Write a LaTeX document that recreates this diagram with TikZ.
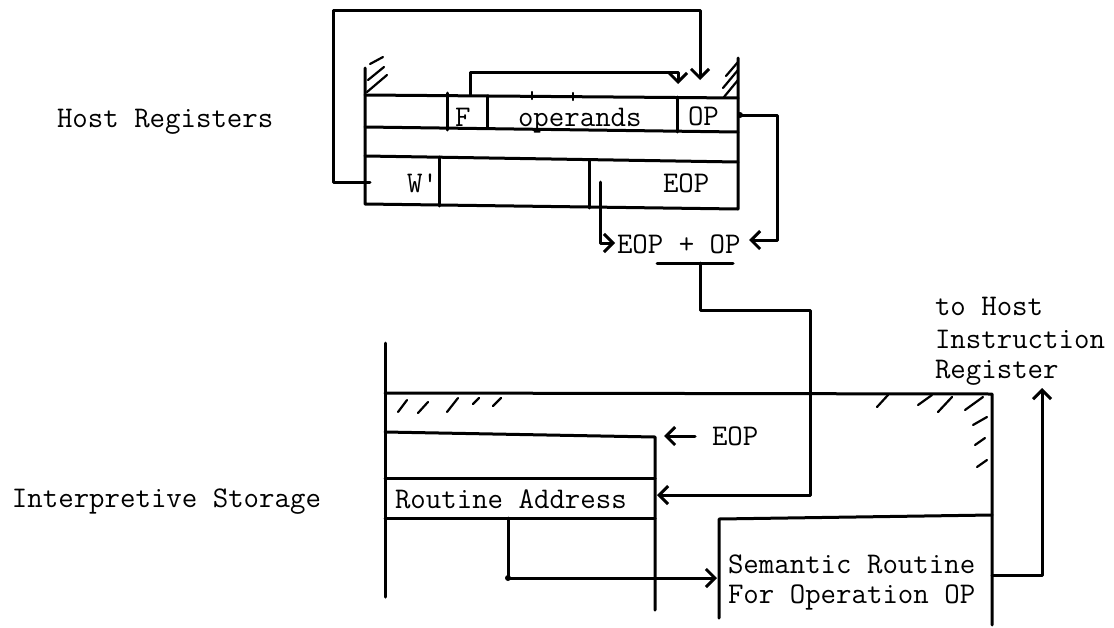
\documentclass[tikz,border=0pt]{standalone}
\usepackage{fontspec}
\usetikzlibrary{arrows.meta}
\begin{document}
\begin{tikzpicture}[x=1pt,y=-1pt, line width=3pt, line join=round, line cap=round,
  lbl/.style={font=\ttfamily\fontsize{30}{32}\selectfont, inner sep=0pt, outer sep=0pt, anchor=base west},
  arr/.style={-{Straight Barb[length=9pt,width=18pt]}},
  hatch/.style={line width=2.2pt}]
\useasboundingbox (0,0) rectangle (1114,627);

% ---------- labels ----------
\node[lbl] (hostlbl) at (57,127) {Host Registers};
\node[lbl] (intlbl) at (12,507) {Interpretive Storage};

% ---------- host registers ----------
\draw (365,68) -- (365,204) -- (738,209) -- (738,58);
\draw (365,95) -- (738,98);
\draw (365,127) -- (738,132);
\draw (365,156) -- (738,162);
\draw (447,93) -- (447,130);
\draw (487,96) -- (487,128);
\draw (677,97) -- (677,132);
\draw (439,157) -- (439,206);
\draw (589,160) -- (589,208);
\draw[hatch] (532,92) -- (532,99);
\draw[hatch] (573,93) -- (573,100);
% hatching
\draw[hatch] (367,92) -- (387,75);
\draw[hatch] (368,80) -- (384,67);
\draw[hatch] (370,64) -- (383,57);
\draw[hatch] (724,97) -- (738,80);
\draw[hatch] (723,88) -- (738,70);
\draw[hatch] (726,76) -- (738,62);

\node[lbl] (F) at (455,126) {F};
\node[lbl] (opnds) at (518,126) {operands};
\node[lbl] (OP) at (688,125) {OP};
\node[lbl] (W) at (407,192) {W'};
\node[lbl] (EOP) at (663,192) {EOP};

% connectors in host registers
\coordinate (wIn) at (370,182);
\coordinate (topTip) at (700,80);
\draw[arr] (wIn) -- (333,182) -- (333,10) -- (700,10) -- (topTip);
\coordinate (fTop) at (470,95);
\coordinate (opTip) at (678,84);
\draw[arr] (fTop) -- (470,72) -- (678,72) -- (opTip);

% ---------- EOP + OP ----------
\node[lbl] (sum) at (617,253) {EOP + OP};
\coordinate (opR) at (740,115);
\fill (opR) circle (3pt);
\coordinate (sumR) at (749,240);
\draw[arr] (opR) -- (777,115) -- (777,240) -- (sumR);
\coordinate (eopC) at (600,182);
\coordinate (sumL) at (615,243);
\draw[arr] (eopC) -- (600,243) -- (sumL);
\coordinate (barL) at (657,263);
\coordinate (barR) at (733,263);
\draw (barL) -- (barR);
\coordinate (barM) at (700,263);
\coordinate (raR) at (657,495);
\draw[arr] (barM) -- (700,310) -- (810,310) -- (810,495) -- (raR);

% ---------- interpretive storage ----------
\draw (385,343) -- (385,597);
\draw (385,393) -- (992,394) -- (992,625);
\draw (385,432) -- (655,437) -- (655,610);
\draw (385,478) -- (655,478);
\draw (385,518) -- (655,518);
\draw (719,618) -- (719,519) -- (992,515);
% hatching
\draw[hatch] (398,412) -- (407,400);
\draw[hatch] (418,413) -- (428,402);
\draw[hatch] (447,412) -- (458,398);
\draw[hatch] (473,404) -- (479,398);
\draw[hatch] (493,406) -- (501,398);
\draw[hatch] (877,407) -- (888,395);
\draw[hatch] (918,405) -- (932,395);
\draw[hatch] (938,412) -- (952,397);
\draw[hatch] (965,410) -- (983,397);
\draw[hatch] (973,425) -- (987,417);
\draw[hatch] (975,445) -- (985,438);
\draw[hatch] (977,467) -- (987,460);

\node[lbl] (eop2) at (712,445) {EOP};
\coordinate (eop2L) at (695,436);
\coordinate (eopTip) at (664,436);
\draw[arr] (eop2L) -- (eopTip);

\node[lbl] (ra) at (395,508) {Routine Address};
\coordinate (raB) at (508,518);
\coordinate (semL) at (717,578);
\fill (508,578) circle (3pt);
\draw[arr] (raB) -- (508,578) -- (semL);

\node[lbl] (sem1) at (728,573) {Semantic Routine};
\node[lbl] (sem2) at (728,603) {For Operation OP};

\coordinate (semR) at (992,575);
\coordinate (hostTip) at (1042,388);
\draw[arr] (semR) -- (1042,575) -- (hostTip);

\node[lbl] (to1) at (935,315) {to Host};
\node[lbl] (to2) at (935,348) {Instruction};
\node[lbl] (to3) at (935,378) {Register};
\end{tikzpicture}
\end{document}
